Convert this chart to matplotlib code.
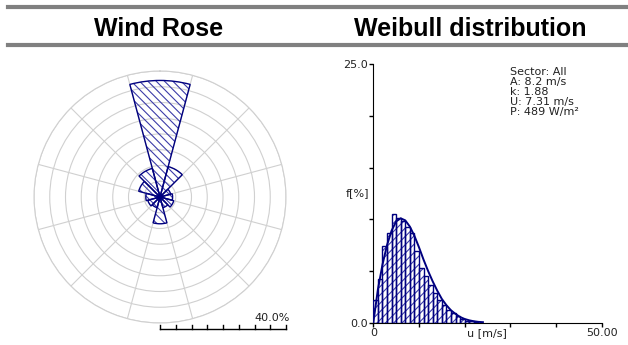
import numpy as np
import matplotlib
matplotlib.use("Agg")
import matplotlib.pyplot as plt
from matplotlib.lines import Line2D

# ---------- data ----------
# wind rose: 12 sectors, frequency in %
SECTOR_DIRS = [0, 30, 60, 90, 120, 150, 180, 210, 240, 270, 300, 330]
SECTOR_FREQ = [37.0, 10.0, 3.5, 4.0, 4.5, 3.5, 8.5, 3.5, 4.0, 4.5, 7.0, 9.4]
ROSE_MAX = 40.0

# weibull histogram: 1 m/s bins starting at 0
BIN_START = list(range(23))
BIN_FREQ = [2.2, 4.2, 7.4, 8.7, 10.5, 10.1, 9.8, 9.3, 8.7, 6.9, 5.3, 4.5, 3.6,
            2.9, 2.2, 1.7, 1.2, 0.9, 0.6, 0.35, 0.2, 0.15, 0.1]

# fitted curve, estimated points
CURVE_U = [0, 1, 2, 3, 4, 5, 6, 7, 8, 9, 10, 11, 12, 13, 14, 15, 16, 17, 18,
           19, 20, 21, 22, 23, 24]
CURVE_F = [0.0, 3.2, 5.6, 7.5, 8.9, 9.8, 10.1, 9.9, 9.3, 8.4, 7.3, 6.1, 5.0,
           4.0, 3.1, 2.3, 1.7, 1.2, 0.85, 0.55, 0.36, 0.23, 0.14, 0.08, 0.05]

STATS = ["Sector: All", "A: 8.2 m/s", "k: 1.88", "U: 7.31 m/s", "P: 489 W/m\u00b2"]

NAVY = "#00007f"
HATCH = "#3c3ca8"
GRID = "#d0d0d0"

W, H = 628, 345
plt.rcParams["hatch.linewidth"] = 0.8


def fx(px):
    return px / W


def fy(py):
    return 1 - py / H


fig = plt.figure(figsize=(W / 100, H / 100), dpi=100)

# ---------- header ----------
for y in (7, 45):
    fig.add_artist(Line2D([fx(8), 1], [fy(y), fy(y)], transform=fig.transFigure,
                          color="#808080", linewidth=3.0))
fig.text(fx(159), fy(36), "Wind Rose", ha="center", va="baseline",
         fontsize=18, fontweight="bold", family="Liberation Sans")
fig.text(fx(470), fy(36), "Weibull distribution", ha="center", va="baseline",
         fontsize=18, fontweight="bold", family="Liberation Sans")

# ---------- wind rose ----------
cx, cy, rad = 160, 197, 126
ax = fig.add_axes([fx(cx - rad), fy(cy + rad), 2 * rad / W, 2 * rad / H],
                  projection="polar")
ax.set_theta_zero_location("N")
ax.set_theta_direction(-1)
theta = np.radians(SECTOR_DIRS)
width = np.radians(30)
ax.bar(theta, SECTOR_FREQ, width=width, fill=False, hatch="\\" * 4,
       edgecolor=HATCH, linewidth=0, zorder=3)
ax.bar(theta, SECTOR_FREQ, width=width, fill=False, edgecolor=NAVY,
       linewidth=1.0, zorder=4)
ax.set_rlim(0, ROSE_MAX)
ax.set_rticks(np.arange(5, ROSE_MAX + 1, 5))
ax.set_yticklabels([])
ax.set_thetagrids(np.arange(15, 360, 30), labels=[])
ax.grid(color=GRID, linewidth=0.8)
ax.spines["polar"].set_color(GRID)
ax.spines["polar"].set_linewidth(0.8)

# scale bar under the rose
bar_y = 329
x0, x1 = cx, cx + rad
fig.add_artist(Line2D([fx(x0), fx(x1)], [fy(bar_y), fy(bar_y)],
                      transform=fig.transFigure, color="black", linewidth=1))
for i in range(9):
    xt = x0 + (x1 - x0) * i / 8
    fig.add_artist(Line2D([fx(xt), fx(xt)], [fy(bar_y), fy(bar_y - 4)],
                          transform=fig.transFigure, color="black", linewidth=1))
fig.text(fx(x1 + 4), fy(321), "%.1f%%" % ROSE_MAX, ha="right", va="baseline",
         fontsize=8, color="#222222")

# ---------- weibull histogram ----------
hx0, hx1, hy0, hy1 = 373.3, 601.7, 322.7, 64.3
ax2 = fig.add_axes([fx(hx0), fy(hy0), (hx1 - hx0) / W, (hy0 - hy1) / H])
ax2.bar(BIN_START, BIN_FREQ, width=1, align="edge", fill=False, hatch="////",
        edgecolor=HATCH, linewidth=0, zorder=2)
ax2.bar(BIN_START, BIN_FREQ, width=1, align="edge", fill=False,
        edgecolor=NAVY, linewidth=1.0, zorder=3)
ax2.plot(CURVE_U, CURVE_F, color=NAVY, linewidth=1.4, zorder=4)
ax2.set_xlim(0, 50)
ax2.set_ylim(0, 25)
ax2.set_xticks(np.arange(0, 51, 10))
ax2.set_xticklabels(["0", "", "", "", "", "50.00"])
ax2.set_yticks(np.arange(0, 26, 5))
ax2.set_yticklabels(["0.0", "", "", "", "", "25.0"])
ax2.tick_params(length=3, width=1, labelsize=8, labelcolor="#222222", pad=1)
for s in ("top", "right"):
    ax2.spines[s].set_visible(False)
ax2.patch.set_alpha(0)

fig.text(fx(487), fy(333), "u [m/s]", ha="center", va="center", fontsize=8,
         color="#222222")
fig.text(fx(357), fy(193), "f[%]", ha="center", va="center", fontsize=8,
         color="#222222")
for i, line in enumerate(STATS):
    fig.text(fx(510), fy(72 + 10 * i), line, ha="left", va="center",
             fontsize=8, color="#222222")

fig.savefig("out.png", dpi=100)
